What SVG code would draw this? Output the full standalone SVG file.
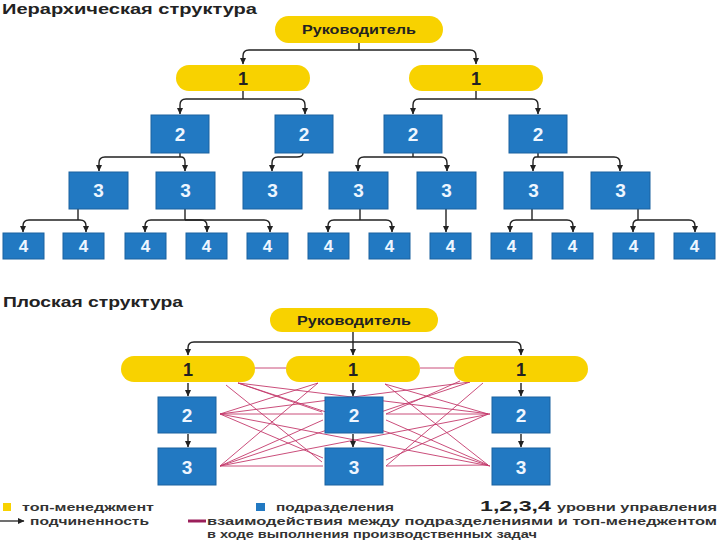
<svg xmlns="http://www.w3.org/2000/svg" width="720" height="540" viewBox="0 0 720 540">
<defs>
<marker id="ah" markerUnits="userSpaceOnUse" markerWidth="7" markerHeight="7" refX="6" refY="3.5" orient="auto">
<path d="M0,0.5 L6.5,3.5 L0,6.5 z" fill="#222"/>
</marker>
<style>
.pill{fill:#f8d200}
.box{fill:#2279c2;stroke:#1a62a0;stroke-width:1}
.t1{font-family:"Liberation Sans",Arial,sans-serif;font-weight:bold;fill:#222;text-anchor:middle}
.tb{font-family:"Liberation Sans",Arial,sans-serif;font-weight:bold;fill:#eef6ff;text-anchor:middle}
.title{font-family:"Liberation Sans",Arial,sans-serif;font-weight:bold;font-size:14px;fill:#222}
.leg{font-family:"Liberation Sans",Arial,sans-serif;font-weight:bold;font-size:11px;fill:#333}
.c{fill:none;stroke:#222;stroke-width:1.4;marker-end:url(#ah)}
.s{fill:none;stroke:#222;stroke-width:1.4}
.p{stroke:#c43a6c;stroke-width:0.9;fill:none}
</style>
</defs>
<rect width="720" height="540" fill="#fff"/>
<text class="title" x="2" y="14" textLength="255" lengthAdjust="spacingAndGlyphs">Иерархическая структура</text>
<text class="title" x="3" y="307" textLength="180" lengthAdjust="spacingAndGlyphs">Плоская структура</text>

<g id="connectors">
<path class="s" d="M359,43 V50"/>
<path class="c" d="M359,50 H249 Q243,50 243,56 V64"/>
<path class="c" d="M359,50 H470 Q476,50 476,56 V64"/>
<path class="s" d="M243,91 V99"/>
<path class="c" d="M243,99 H186 Q180,99 180,105 V114"/>
<path class="c" d="M243,99 H299 Q305,99 305,105 V114"/>
<path class="s" d="M476,91 V99"/>
<path class="c" d="M476,99 H419 Q413,99 413,105 V114"/>
<path class="c" d="M476,99 H532 Q538,99 538,105 V114"/>
<path class="s" d="M180,153 V157"/>
<path class="c" d="M180,157 H105 Q99,157 99,163 V171"/>
<path class="c" d="M180,157 H181 Q185,157 185,162 V171"/>
<path class="c" d="M303,153 Q303,157 297,157 H278 Q272,157 272,163 V171"/>
<path class="s" d="M413,153 V157"/>
<path class="c" d="M413,157 H364 Q358,157 358,163 V171"/>
<path class="c" d="M413,157 H441 Q447,157 447,163 V171"/>
<path class="s" d="M538,153 V157"/>
<path class="c" d="M538,157 H536 Q533,157 533,162 V171"/>
<path class="c" d="M538,157 H614 Q620,157 620,163 V171"/>
<path class="s" d="M78,209 V220"/>
<path class="c" d="M78,220 H29 Q23,220 23,226 V232"/>
<path class="c" d="M78,220 H80 Q86,220 86,226 V232"/>
<path class="s" d="M185,209 V220"/>
<path class="c" d="M185,220 H151 Q145,220 145,226 V232"/>
<path class="c" d="M185,220 H201 Q207,220 207,226 V232"/>
<path class="c" d="M185,220 H264 Q270,220 270,226 V232"/>
<path class="s" d="M360,209 V220"/>
<path class="c" d="M360,220 H334 Q328,220 328,226 V232"/>
<path class="c" d="M360,220 H386 Q392,220 392,226 V232"/>
<path class="c" d="M446,209 V232"/>
<path class="s" d="M532,209 V220"/>
<path class="c" d="M532,220 H516 Q510,220 510,226 V232"/>
<path class="c" d="M532,220 H567 Q573,220 573,226 V232"/>
<path class="s" d="M638,209 V220"/>
<path class="c" d="M638,220 Q633,220 633,225 V232"/>
<path class="c" d="M638,220 H689 Q695,220 695,226 V232"/>
<g id="interactions">
<line class="p" x1="253" y1="368" x2="287" y2="368"/>
<line class="p" x1="420" y1="368" x2="454" y2="368"/>
<line class="p" x1="238" y1="383" x2="322" y2="412"/>
<line class="p" x1="226" y1="385" x2="322" y2="462"/>
<line class="p" x1="220" y1="414" x2="318" y2="383"/>
<line class="p" x1="220" y1="414" x2="323" y2="414"/>
<line class="p" x1="220" y1="414" x2="323" y2="458"/>
<line class="p" x1="220" y1="466" x2="318" y2="383"/>
<line class="p" x1="220" y1="466" x2="323" y2="420"/>
<line class="p" x1="220" y1="466" x2="323" y2="466"/>
<line class="p" x1="238" y1="383" x2="490" y2="414"/>
<line class="p" x1="220" y1="414" x2="490" y2="466"/>
<line class="p" x1="220" y1="466" x2="490" y2="414"/>
<line class="p" x1="470" y1="382" x2="220" y2="414"/>
<line class="p" x1="238" y1="383" x2="490" y2="466"/>
<line class="p" x1="470" y1="382" x2="220" y2="466"/>
<line class="p" x1="385" y1="384" x2="488" y2="414"/>
<line class="p" x1="385" y1="384" x2="488" y2="465"/>
<line class="p" x1="386" y1="414" x2="488" y2="414"/>
<line class="p" x1="386" y1="420" x2="488" y2="465"/>
<line class="p" x1="386" y1="466" x2="488" y2="465"/>
<line class="p" x1="386" y1="460" x2="488" y2="414"/>
<line class="p" x1="460" y1="381" x2="386" y2="414"/>
<line class="p" x1="483" y1="383" x2="386" y2="466"/>
</g>
<path class="c" d="M353,332 V355"/>
<path class="c" d="M353,342 H194 Q188,342 188,348 V355"/>
<path class="c" d="M353,342 H515 Q521,342 521,348 V355"/>
<path class="c" d="M188,383 V396"/>
<path class="c" d="M353,383 V396"/>
<path class="c" d="M521,383 V396"/>
<path class="c" d="M188,434 V447"/>
<path class="c" d="M353,434 V447"/>
<path class="c" d="M521,434 V447"/>
</g>

<g id="h-root"><rect class="pill" x="275" y="16" width="168" height="27" rx="13.5"/><text class="t1" x="359" y="34" font-size="13" textLength="114" lengthAdjust="spacingAndGlyphs">Руководитель</text></g>
<g id="h-1a"><rect class="pill" x="176" y="65" width="134" height="26" rx="13"/><text class="t1" x="243" y="85" font-size="18">1</text></g>
<g id="h-1b"><rect class="pill" x="409" y="65" width="134" height="26" rx="13"/><text class="t1" x="476" y="85" font-size="18">1</text></g>
<g id="h-2a"><rect class="box" x="151" y="115" width="58" height="38"/><text class="tb" x="180" y="141" font-size="19">2</text></g>
<g id="h-2b"><rect class="box" x="275" y="115" width="58" height="38"/><text class="tb" x="304" y="141" font-size="19">2</text></g>
<g id="h-2c"><rect class="box" x="384" y="115" width="58" height="38"/><text class="tb" x="413" y="141" font-size="19">2</text></g>
<g id="h-2d"><rect class="box" x="509" y="115" width="58" height="38"/><text class="tb" x="538" y="141" font-size="19">2</text></g>
<g id="h-3a"><rect class="box" x="69" y="172" width="59" height="37"/><text class="tb" x="98.5" y="197" font-size="19">3</text></g>
<g id="h-3b"><rect class="box" x="156" y="172" width="59" height="37"/><text class="tb" x="185.5" y="197" font-size="19">3</text></g>
<g id="h-3c"><rect class="box" x="243" y="172" width="59" height="37"/><text class="tb" x="272.5" y="197" font-size="19">3</text></g>
<g id="h-3d"><rect class="box" x="329" y="172" width="59" height="37"/><text class="tb" x="358.5" y="197" font-size="19">3</text></g>
<g id="h-3e"><rect class="box" x="417" y="172" width="59" height="37"/><text class="tb" x="446.5" y="197" font-size="19">3</text></g>
<g id="h-3f"><rect class="box" x="504" y="172" width="59" height="37"/><text class="tb" x="533.5" y="197" font-size="19">3</text></g>
<g id="h-3g"><rect class="box" x="591" y="172" width="59" height="37"/><text class="tb" x="620.5" y="197" font-size="19">3</text></g>
<g id="h-4a"><rect class="box" x="3" y="233" width="41" height="26"/><text class="tb" x="23.5" y="252" font-size="17">4</text></g>
<g id="h-4b"><rect class="box" x="63" y="233" width="41" height="26"/><text class="tb" x="83.5" y="252" font-size="17">4</text></g>
<g id="h-4c"><rect class="box" x="125" y="233" width="41" height="26"/><text class="tb" x="145.5" y="252" font-size="17">4</text></g>
<g id="h-4d"><rect class="box" x="186" y="233" width="41" height="26"/><text class="tb" x="206.5" y="252" font-size="17">4</text></g>
<g id="h-4e"><rect class="box" x="247" y="233" width="41" height="26"/><text class="tb" x="267.5" y="252" font-size="17">4</text></g>
<g id="h-4f"><rect class="box" x="308" y="233" width="41" height="26"/><text class="tb" x="328.5" y="252" font-size="17">4</text></g>
<g id="h-4g"><rect class="box" x="369" y="233" width="41" height="26"/><text class="tb" x="389.5" y="252" font-size="17">4</text></g>
<g id="h-4h"><rect class="box" x="430" y="233" width="41" height="26"/><text class="tb" x="450.5" y="252" font-size="17">4</text></g>
<g id="h-4i"><rect class="box" x="491" y="233" width="41" height="26"/><text class="tb" x="511.5" y="252" font-size="17">4</text></g>
<g id="h-4j"><rect class="box" x="552" y="233" width="41" height="26"/><text class="tb" x="572.5" y="252" font-size="17">4</text></g>
<g id="h-4k"><rect class="box" x="613" y="233" width="41" height="26"/><text class="tb" x="633.5" y="252" font-size="17">4</text></g>
<g id="h-4l"><rect class="box" x="674" y="233" width="41" height="26"/><text class="tb" x="694.5" y="252" font-size="17">4</text></g>

<g id="f-root"><rect class="pill" x="270" y="308" width="168" height="24" rx="12"/><text class="t1" x="354" y="325" font-size="13" textLength="114" lengthAdjust="spacingAndGlyphs">Руководитель</text></g>
<g id="f-1a"><rect class="pill" x="121" y="356" width="134" height="26" rx="13"/><text class="t1" x="188" y="376" font-size="18">1</text></g>
<g id="f-1b"><rect class="pill" x="286" y="356" width="134" height="26" rx="13"/><text class="t1" x="353" y="376" font-size="18">1</text></g>
<g id="f-1c"><rect class="pill" x="454" y="356" width="134" height="26" rx="13"/><text class="t1" x="521" y="376" font-size="18">1</text></g>
<g id="f-2a"><rect class="box" x="158" y="397" width="58" height="36"/><text class="tb" x="187" y="422" font-size="19">2</text></g>
<g id="f-2b"><rect class="box" x="325" y="397" width="58" height="36"/><text class="tb" x="354" y="422" font-size="19">2</text></g>
<g id="f-2c"><rect class="box" x="492" y="397" width="58" height="36"/><text class="tb" x="521" y="422" font-size="19">2</text></g>
<g id="f-3a"><rect class="box" x="158" y="448" width="58" height="37"/><text class="tb" x="187" y="474" font-size="19">3</text></g>
<g id="f-3b"><rect class="box" x="325" y="448" width="58" height="37"/><text class="tb" x="354" y="474" font-size="19">3</text></g>
<g id="f-3c"><rect class="box" x="492" y="448" width="58" height="37"/><text class="tb" x="521" y="474" font-size="19">3</text></g>

<g id="legend">
<rect x="3" y="503" width="8" height="8" fill="#f8d200"/>
<text class="leg" x="22" y="511" textLength="132" lengthAdjust="spacingAndGlyphs">топ-менеджмент</text>
<rect x="256" y="503" width="9" height="8" fill="#2279c2"/>
<text class="leg" x="276" y="511" textLength="118" lengthAdjust="spacingAndGlyphs">подразделения</text>
<text x="480" y="511" font-family="Liberation Sans, Arial, sans-serif" font-weight="bold" font-size="14" fill="#222" textLength="71" lengthAdjust="spacingAndGlyphs">1,2,3,4</text>
<text class="leg" x="557" y="511" textLength="160" lengthAdjust="spacingAndGlyphs">уровни управления</text>
<line x1="0" y1="521" x2="24" y2="521" stroke="#222" stroke-width="1.3" marker-end="url(#ah)"/>
<text class="leg" x="30" y="525" textLength="119" lengthAdjust="spacingAndGlyphs">подчиненность</text>
<line x1="188" y1="521" x2="206" y2="521" stroke="#9b1f5a" stroke-width="3"/>
<text class="leg" x="207" y="525" textLength="510" lengthAdjust="spacingAndGlyphs">взаимодействия между подразделениями и топ-менеджентом</text>
<text class="leg" x="207" y="537.5" font-size="10" textLength="330" lengthAdjust="spacingAndGlyphs">в ходе выполнения производственных задач</text>
</g>
</svg>
